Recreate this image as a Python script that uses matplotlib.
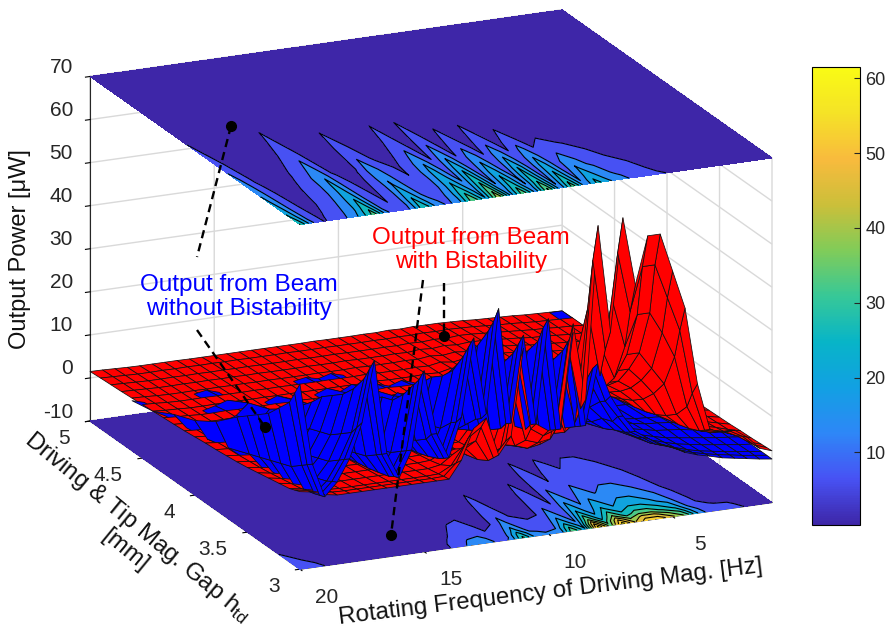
import numpy as np
import matplotlib
matplotlib.use("Agg")
import matplotlib.pyplot as plt
from matplotlib.colors import LinearSegmentedColormap, Normalize
from matplotlib.cm import ScalarMappable
from mpl_toolkits.mplot3d import proj3d
from mpl_toolkits.mplot3d.art3d import Poly3DCollection

plt.rcParams['font.family'] = ['Liberation Sans', 'DejaVu Sans']
plt.rcParams['mathtext.default'] = 'regular'
plt.rcParams['grid.color'] = '#d9d9d9'
plt.rcParams['grid.linewidth'] = 1.0

# rotating frequency [Hz], one value per column of the tables below
freq = [20, 19.5, 19, 18.5, 18, 17.5, 17, 16.5, 16, 15.5,
        15, 14.5, 14, 13.5, 13, 12.5, 12, 11.5, 11, 10.5,
        10, 9.5, 9, 8.5, 8, 7.5, 7, 6.5, 6, 5.5,
        5, 4.5, 4, 3.5, 3, 2.5, 2, 1.5, 1]
# gap [mm], one value per row
gap_red = [3.0, 3.05, 3.1, 3.2, 3.3, 3.4, 3.5, 3.6, 3.7, 3.8, 3.9, 4.0, 4.1, 4.2, 4.3, 4.4, 4.5, 4.6, 4.7, 4.8, 4.9, 5.0]
gap_blue = [3.0, 3.05, 3.1, 3.2, 3.3, 3.4, 3.5, 3.6, 3.8, 4.0, 4.2, 4.4, 4.6, 4.8, 5.0]

# output power [uW], beam with bistability
power_red = [
    [8,7.5,6.5,6,6,6,6,6,6,6, 6,6,6,10,17,19,10,14,34,16, 14,15,38,20,60,35,61,45, 56,56,47,38,20,9,8,8,6,3,2],
    [7.5,7,6.2,5.8,5.7,5.7,5.7,5.7,5.7,5.7, 5.7,5.7,5.8,8.5,14,16,8.5,12,29,14, 12,13,32,17,51,30,52,38, 48,48,40,32,17,8,7.2,7,5.4,2.9,1.9],
    [7,6.5,5.8,5.5,5.4,5.4,5.4,5.4,5.4,5.4, 5.4,5.4,5.5,7,11,12,7,9.5,22,10.5, 9.5,10,25,13,39,23,40,29, 36,36,31,25,13,7,6.2,6,4.6,2.7,1.8],
    [6.5,6,5.3,5,5,5,5,5,5,5, 5,5,5,5.5,7.5,8.5,5.5,6.5,15,7.5, 6.5,7,17,9,27,16,27,20, 25,25,21,17,9.5,5.8,4.8,4.5,3.6,2.4,1.6],
    [6,5.5,4.9,4.6,4.6,4.6,4.6,4.6,4.6,4.6, 4.6,4.6,4.6,4.8,6,6.6,4.8,5.2,12,6, 5.2,5.5,13,7,21,12.5,21,16, 19.5,19.5,16.5,13,7.5,5,4.2,3.8,3.1,2.2,1.5],
    [5.5,5,4.5,4.2,4.2,4.3,4.2,4.3,4.2,4.3, 4.2,4.3,4.2,4.3,4.8,5.2,4.3,4.5,9,4.8, 4.5,4.5,10,5.6,16,9.5,16.5,12.5, 15,15,13,10,6,4.4,3.6,3.2,2.7,2,1.3],
    [5,4.6,4.2,3.9,3.9,4,3.9,4,3.9,4, 3.9,4,3.9,3.9,4.2,4.4,3.9,4,7.5,4.2, 4,4,8.3,4.6,13,7.8,13.4,10, 12.3,12.3,10.5,8,5,3.8,3.2,2.8,2.4,1.8,1.2],
    [4.6,4.3,3.9,3.7,3.7,3.8,3.7,3.8,3.7,3.8, 3.7,3.8,3.7,3.7,3.8,3.9,3.7,3.7,6.1,3.8, 3.7,3.7,6.8,3.9,10.8,6.4,11,8.2, 10,10,8.6,6.6,4.3,3.4,2.8,2.4,2,1.6,1.1],
    [4.3,4,3.7,3.5,3.5,3.6,3.5,3.6,3.5,3.6, 3.5,3.6,3.5,3.5,3.5,3.6,3.5,3.5,5,3.5, 3.5,3.5,5.6,3.6,8.8,5.3,9,6.7, 8.2,8.2,7,5.4,3.8,3,2.5,2.1,1.8,1.4,1],
    [4,3.8,3.5,3.3,3.3,3.4,3.3,3.4,3.3,3.4, 3.3,3.4,3.3,3.3,3.3,3.4,3.3,3.3,4.2,3.3, 3.3,3.3,4.7,3.4,7.2,4.5,7.3,5.6, 6.9,6.9,5.8,4.6,3.4,2.7,2.2,1.9,1.6,1.2,.9],
    [3.8,3.5,3.3,3.1,3.1,3.2,3.1,3.2,3.1,3.2, 3.1,3.2,3.1,3.1,3.1,3.2,3.1,3.1,3.7,3.1, 3.1,3.1,3.9,3.2,6,3.9,6,4.7, 5.8,5.6,4.8,3.9,3,2.4,2,1.7,1.4,1.1,.8],
    [3.5,3.3,3.1,2.9,2.9,3,2.9,3,2.9,3, 2.9,3,2.9,2.9,2.9,3,2.9,2.9,3.2,2.9, 2.9,2.9,3.4,2.9,4.9,3.4,5,4, 5,4.8,4,3.3,2.7,2.2,1.8,1.5,1.3,1,.7],
    [3.2,3,2.9,2.7,2.7,2.8,2.7,2.8,2.7,2.8, 2.7,2.8,2.7,2.7,2.7,2.8,2.7,2.7,2.9,2.7, 2.7,2.7,3,2.7,4.1,3,4.2,3.5, 4.3,4.2,3.5,2.9,2.4,2,1.6,1.4,1.2,.9,.7],
    [3,2.8,2.7,2.5,2.5,2.6,2.5,2.6,2.5,2.6, 2.5,2.6,2.5,2.5,2.5,2.6,2.5,2.5,2.7,2.5, 2.5,2.5,2.7,2.5,3.6,2.8,3.7,3.1, 3.8,3.6,3.1,2.6,2.2,1.8,1.5,1.3,1.1,.8,.6],
    [2.8,2.6,2.5,2.3,2.3,2.4,2.3,2.4,2.3,2.4, 2.3,2.4,2.3,2.3,2.3,2.4,2.3,2.3,2.5,2.3, 2.3,2.3,2.5,2.3,3.1,2.5,3.2,2.8, 3.4,3.2,2.8,2.4,2,1.7,1.4,1.2,1,.8,.6],
    [2.6,2.4,2.3,2.15,2.15,2.2,2.15,2.2,2.15,2.2, 2.15,2.2,2.15,2.15,2.15,2.2,2.15,2.15,2.3,2.15, 2.15,2.15,2.3,2.15,2.8,2.3,2.9,2.5, 3,2.9,2.5,2.2,1.8,1.5,1.3,1.1,.9,.7,.5],
    [2.4,2.3,2.1,2,2,2.05,2,2.05,2,2.05, 2,2.05,2,2,2,2.05,2,2,2.1,2, 2,2,2.1,2,2.5,2.1,2.6,2.3, 2.7,2.6,2.3,2,1.7,1.4,1.2,1,.8,.6,.5],
    [2.2,2.1,1.95,1.85,1.85,1.9,1.85,1.9,1.85,1.9, 1.85,1.9,1.85,1.85,1.85,1.9,1.85,1.85,1.95,1.85, 1.85,1.85,1.95,1.85,2.2,1.95,2.3,2, 2.4,2.3,2.1,1.8,1.5,1.3,1.1,.9,.7,.6,.4],
    [2,1.9,1.8,1.7,1.7,1.75,1.7,1.75,1.7,1.75, 1.7,1.75,1.7,1.7,1.7,1.75,1.7,1.7,1.8,1.7, 1.7,1.7,1.8,1.7,2,1.8,2.1,1.85, 2.1,2,1.8,1.6,1.4,1.1,1,.8,.6,.5,.3],
    [1.85,1.75,1.65,1.55,1.55,1.6,1.55,1.6,1.55,1.6, 1.55,1.6,1.55,1.55,1.55,1.6,1.55,1.55,1.6,1.55, 1.55,1.55,1.6,1.55,1.7,1.6,1.8,1.65, 1.9,1.8,1.6,1.4,1.2,1,.8,.7,.5,.4,.2],
    [1.7,1.6,1.5,1.4,1.4,1.45,1.4,1.45,1.4,1.45, 1.4,1.45,1.4,1.4,1.4,1.45,1.4,1.4,1.45,1.4, 1.4,1.4,1.45,1.4,1.5,1.45,1.6,1.5, 1.6,1.5,1.4,1.2,1,.9,.7,.5,.4,.3,.2],
    [1.5,1.45,1.35,1.25,1.2,1.2,1.2,1.2,1.15,1.15, 1.15,1.15,1.15,1.15,1.15,1.15,1.15,1.15,1.2,1.15, 1.15,1.15,1.2,1.15,1.3,1.2,1.35,1.3, 1.3,1.2,1.1,.9,.8,.7,.6,.4,.3,.2,.1],
]

# output power [uW], beam without bistability
power_blue = [
    [33,14,6,9,14,22,36,14,8,14, 32,17,11,20,38,20,44,17,37,16, 40,14,36,14,28,20,15,11,9,7, 6,4.5,3.5,2.8,2,1.5,1,.5,.1],
    [30,13,5.5,8.3,13,20,33,13,7.4,13, 29,16,10,18,35,18,40,16,34,15, 37,13,33,13,26,18,14,10,8.3,6.4, 5.5,4.2,3.2,2.5,1.9,1.4,.9,.5,.1],
    [27,12,5,7.5,12,18,30,12,6.6,12, 27,14,9.1,17,32,17,37,14,31,13, 33,12,30,12,23,17,12,9.1,7.5,5.8, 5,3.9,3,2.3,1.8,1.3,.9,.5,.1],
    [24,10,4.3,6.5,10,16,26,10,5.8,10, 23,12,7.9,14,27,14,32,12,27,12, 29,10,26,10,20,14,11,7.9,6.5,5, 4.3,3.4,2.6,2.1,1.6,1.2,.8,.4,.1],
    [21,9,3.8,5.8,9,14,23,9,5.1,9, 20,11,7,13,24,11,28,10,24,9, 26,9,23,9,18,11,8.5,6.5,5.8,4.5, 3.8,3,2.3,1.9,1.5,1.1,.7,.4,.1],
    [19,8,3.5,5.2,8,13,21,8,4.6,8, 19,10,6.4,12,22,9,24,8.5,20,8, 21,8,19,8,13,9,7,5.5,4.8,4.1, 3.5,2.9,2.3,2,1.7,1.2,.9,.6,.4],
    [17,7,3.2,4.5,7,12,19,7,4,7, 17,9,5.5,10,19,7,20,7,17,6.5, 17,6.5,15,6.5,10,7,5.5,4.5,4,3.5, 3,2.6,2.1,1.9,1.6,1.1,.8,.5,.3],
    [15,6,2.5,3.7,6,9.5,16,5.5,3.2,5.5, 14,7,4,8,15,5,16,5,13,4.5, 13,4.5,11,4,6.5,4.5,4,3.5,3,2.6, 2.2,1.9,1.6,1.4,1.2,.9,.7,.5,.3],
    [10.5,4,1.7,2.5,4,6.5,11,3.5,2,3.5, 9.5,4.5,2.5,5,9,3,9.5,3,7.5,2.5, 7.5,2.5,5.5,2.2,3.5,2.4,2.2,2,1.9,1.7, 1.5,1.3,1.1,1,.9,.7,.5,.4,.2],
    [7.3,2.6,1.1,1.6,2.6,4.2,7.5,2.2,1.3,2, 6.5,2.6,1.5,2.6,6.5,1.8,6.5,1.7,4.5,1.5, 4.5,1.5,3.2,1.3,2,1.5,1.4,1.3,1.2,1.1, 1,.9,.8,.7,.6,.5,.4,.3,.2],
    [5.3,1.8,.8,1.1,1.8,3,5.5,1.5,.9,1.4, 4.3,1.8,1,1.8,4.5,1.2,4.5,1.1,3,1, 3,1,2.2,.9,1.4,1,.9,.8,.8,.7, .7,.6,.5,.5,.4,.3,.3,.2,.1],
    [2.6,1.1,.6,.8,1.1,1.8,2.7,1,.7,1, 2.1,1.1,.7,1.1,2.2,.9,2.3,.8,1.6,.7, 1.6,.7,1.2,.7,.9,.7,.7,.6,.6,.5, .5,.4,.4,.3,.3,.2,.2,.1,.1],
    [1.6,.8,.5,.6,.8,1.1,1.6,.7,.5,.7, 1.3,.8,.5,.8,1.3,.6,1.4,.6,1,.5, 1,.5,.8,.5,.6,.5,.5,.4,.4,.4, .3,.3,.3,.2,.2,.2,.1,.1,.1],
    [1.1,.6,.4,.4,.6,.8,1.1,.5,.3,.5, .9,.6,.4,.6,.9,.4,1,.4,.7,.4, .7,.4,.5,.4,.4,.4,.4,.3,.3,.3, .2,.2,.2,.2,.2,.1,.1,.1,.1],
    [.8,.4,.3,.3,.4,.5,.7,.3,.2,.3, .6,.4,.3,.4,.6,.3,.7,.3,.5,.3, .5,.3,.4,.3,.3,.3,.3,.2,.2,.2, .2,.2,.1,.1,.1,.1,.1,.1,.1],
]

contour_levels = [0, 6.5, 13, 19.5, 26, 32.5, 39, 45.5, 52, 58.5, 70]
freq_ticks = [20, 15, 10, 5]
gap_ticks = [3, 3.5, 4, 4.5, 5]
gap_ticklabels = ['3', '3.5', '4', '4.5', '5']
power_ticks = [-10, 0, 10, 20, 30, 40, 50, 60, 70]
cbar_ticks = [10, 20, 30, 40, 50, 60]

parula = LinearSegmentedColormap.from_list('parula', [
    (0.2422, 0.1504, 0.6603), (0.2810, 0.3228, 0.9579), (0.1786, 0.5289, 0.9682),
    (0.0689, 0.6279, 0.8890), (0.0297, 0.7082, 0.7816), (0.2161, 0.7843, 0.5923),
    (0.5044, 0.7993, 0.3480), (0.7974, 0.7496, 0.2259), (0.9739, 0.7314, 0.2400),
    (0.9598, 0.8870, 0.1521), (0.9769, 0.9839, 0.0805)])
norm = Normalize(0.3, 61.5)
band_colors = [parula(norm(v)) for v in contour_levels[:-1]]  # a band takes the colour of its lower level

W, H = 889, 631
fig = plt.figure(figsize=(W / 100, H / 100), dpi=100)
ax = fig.add_axes([0, 0, 1, 1], projection='3d', proj_type='ortho', computed_zorder=False)
ax.patch.set_alpha(0)
ax.view_init(elev=18.4, azim=-114.1)
ax.set_box_aspect((517, 514, 363))
ax.set_xlim(20, 1)
ax.set_ylim(3, 5)
ax.set_zlim(-10, 70)

red = np.array(power_red)
blue = np.array(power_blue)
Fr, Gr = np.meshgrid(freq, gap_red)
Fb, Gb = np.meshgrid(freq, gap_blue)

# floor and ceiling contour maps
ax.contourf(Fr, Gr, red, levels=contour_levels, colors=band_colors, zdir='z', offset=-10, zorder=1)
ax.contour(Fr, Gr, red, levels=contour_levels[1:-1], colors='k', linewidths=0.8, zdir='z', offset=-10, zorder=2)
ax.contourf(Fb, Gb, blue, levels=contour_levels, colors=band_colors, zdir='z', offset=70, zorder=1)
ax.contour(Fb, Gb, blue, levels=contour_levels[1:-1], colors='k', linewidths=0.8, zdir='z', offset=70, zorder=2)


def quads(Z, gap):
    out = []
    for i in range(len(gap) - 1):
        for j in range(len(freq) - 1):
            out.append([(freq[j], gap[i], Z[i, j]), (freq[j + 1], gap[i], Z[i, j + 1]),
                        (freq[j + 1], gap[i + 1], Z[i + 1, j + 1]), (freq[j], gap[i + 1], Z[i + 1, j])])
    return out


def hidden_under_red(q):
    # the painter sort can lift a blue cell through the red sheet at the back, so leave those cells out
    g0 = min(v[1] for v in q)
    f0 = min(v[0] for v in q)
    if g0 < 3.6 or (g0 < 4.2 and f0 < 8):
        return False
    for f, g, z in q:
        if z >= np.interp(g, gap_red, red[:, freq.index(f)]):
            return False
    return True


# both meshes in one collection so that they are depth sorted together
red_quads = quads(red, gap_red)
blue_quads = [q for q in quads(blue, gap_blue) if not hidden_under_red(q)]
mesh = Poly3DCollection(red_quads + blue_quads,
                        facecolors=['#ff0000'] * len(red_quads) + ['#0000ff'] * len(blue_quads),
                        edgecolors='#101010', linewidths=0.55, zorder=3)
mesh.set_zsort('average')
ax.add_collection3d(mesh)

ax.set_xticks(freq_ticks)
ax.set_yticks(gap_ticks)
ax.set_zticks(power_ticks)
ax.set_xticklabels([])
ax.set_yticklabels([])
ax.set_zticklabels([])
for a in (ax.xaxis, ax.yaxis, ax.zaxis):
    a.set_pane_color((1, 1, 1, 1))
    a.pane.set_edgecolor('#cfcfcf')
    a.line.set_color('#262626')
    a._axinfo['tick']['inward_factor'] = 0.12
    a._axinfo['tick']['outward_factor'] = 0.0


def corner_px(x, y, z):
    ax.apply_aspect()
    px, py, _ = proj3d.proj_transform(x, y, z, ax.get_proj())
    return ax.transData.transform((px, py))


def place_axes(size, cx, cy):
    ax.set_position([(cx - size / 2) / W, (cy - size / 2) / H, size / W, size / H])


# fit the box on the picture: ceiling left corner and floor right corner
size = 800.0
place_axes(size, W / 2, H / 2)
a0 = corner_px(20, 5, 70)
b0 = corner_px(1, 3, -10)
size = size * (772 - 90) / (b0[0] - a0[0])
place_axes(size, W / 2, H / 2)
a0 = corner_px(20, 5, 70)
b0 = corner_px(1, 3, -10)
place_axes(size, W / 2 + (772 + 90) / 2 - (a0[0] + b0[0]) / 2,
           H / 2 + (H - 76 + H - 503) / 2 - (a0[1] + b0[1]) / 2)

# overlay in picture pixels for labels and callouts
ov = fig.add_axes([0, 0, 1, 1], facecolor='none')
ov.set_xlim(0, W)
ov.set_ylim(H, 0)
ov.axis('off')

TICK = '#262626'
for t in freq_ticks:
    p = corner_px(t, 3, -10)
    ov.text(p[0] + 27, H - p[1] + 28, str(t), ha='center', va='center', fontsize=15, color=TICK)
for t, s in zip(gap_ticks, gap_ticklabels):
    p = corner_px(20, t, -10)
    ov.text(p[0] - 20, H - p[1] + 17, s, ha='right', va='center', fontsize=15, color=TICK)
for t in power_ticks:
    p = corner_px(20, 5, t)
    ov.text(p[0] - 17, H - p[1] - 9, str(t), ha='right', va='center', fontsize=15, color=TICK)

ov.text(20, 249, 'Output Power [μW]', rotation=90, ha='center', va='center', fontsize=17, color='#111111')
ov.text(551, 592, 'Rotating Frequency of Driving Mag. [Hz]', rotation=7, ha='center', va='center',
        fontsize=17.3, color='#111111', rotation_mode='anchor')
ov.text(137, 527, 'Driving & Tip Mag. Gap h$_{td}$', rotation=-39.4, ha='center', va='center',
        fontsize=17.3, color='#111111', rotation_mode='anchor')
ov.text(125, 550, '[mm]', rotation=-39.4, ha='center', va='center',
        fontsize=17.3, color='#111111', rotation_mode='anchor')
ov.text(471, 250, 'Output from Beam\nwith Bistability', color='#ff0000', ha='center', va='center',
        fontsize=17.5, linespacing=1.15)
ov.text(239, 297, 'Output from Beam\nwithout Bistability', color='#0000ff', ha='center', va='center',
        fontsize=17.5, linespacing=1.15)

for x0, y0, x1, y1 in [(231, 126, 197, 257), (197, 330, 265, 427), (423, 280, 391, 535), (444, 283, 444, 336)]:
    ov.plot([x0, x1], [y0, y1], color='k', lw=1.7, ls=(0, (3.5, 2.2)))
for x0, y0 in [(231, 126), (265, 427), (391, 535), (444, 336)]:
    ov.plot(x0, y0, 'o', color='k', ms=7)

cax = fig.add_axes([812 / W, 1 - 525 / H, 48 / W, 458 / H])
cb = fig.colorbar(ScalarMappable(norm=norm, cmap=parula), cax=cax, ticks=cbar_ticks)
cb.ax.tick_params(labelsize=13, direction='in', length=4, pad=4, colors='#262626')
cb.outline.set_linewidth(0.8)

fig.savefig('out.png', dpi=100)
